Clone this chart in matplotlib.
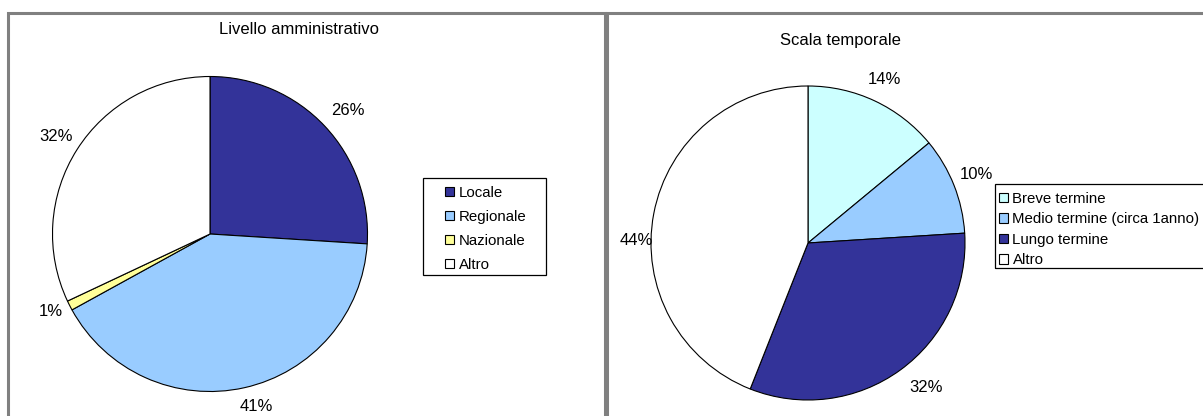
import matplotlib.pyplot as plt
from matplotlib.patches import Rectangle

plt.rcParams['font.family'] = ['Liberation Sans', 'DejaVu Sans']

# data
admin_labels = ["Locale", "Regionale", "Nazionale", "Altro"]
admin_values = [26, 41, 1, 32]
admin_colors = ["#333399", "#99CCFF", "#FFFF99", "#FFFFFF"]

time_labels = ["Breve termine", "Medio termine (circa 1anno)", "Lungo termine", "Altro"]
time_values = [14, 10, 32, 44]
time_colors = ["#CCFFFF", "#99CCFF", "#333399", "#FFFFFF"]

W, H = 1203, 416
fig = plt.figure(figsize=(W / 100, H / 100), dpi=100)


def px_axes(cx, cy, r):
    # axes box in pixel coords, y measured from top
    return fig.add_axes([(cx - r) / W, (H - cy - r) / H, 2 * r / W, 2 * r / H])


def px_rect(x0, y0, x1, y1, **kw):
    fig.add_artist(Rectangle((x0 / W, 1 - y1 / H), (x1 - x0) / W, (y1 - y0) / H,
                             transform=fig.transFigure, fill=False, **kw))


# panel borders
px_rect(8, 13, 605, 460, edgecolor="#808080", linewidth=2.2)
px_rect(607, 13, 1300, 460, edgecolor="#808080", linewidth=2.2)


def draw_pie(ax, values, colors, label_pos):
    wedges, texts = ax.pie(values, colors=colors, startangle=90, counterclock=False,
                           labels=[f"{v}%" for v in values], labeldistance=1.15,
                           wedgeprops=dict(edgecolor="black", linewidth=0.8),
                           textprops=dict(fontsize=12))
    for t, p in zip(texts, label_pos):
        t.set_position(p)
        t.set_ha("center")
        t.set_va("center")
    ax.set_xlim(-1, 1)
    ax.set_ylim(-1, 1)
    ax.set_aspect("equal")
    return wedges


ax1 = px_axes(210, 234, 157.5)
w1 = draw_pie(ax1, admin_values, admin_colors,
              [(0.873, 0.785), (0.291, -1.095), (-1.009, -0.494), (-0.978, 0.62)])
fig.text(299 / W, 1 - 30 / H, "Livello amministrativo", ha="center", va="center", fontsize=12)

ax2 = px_axes(808, 243, 157)
w2 = draw_pie(ax2, time_values, time_colors,
              [(0.49, 1.04), (1.076, 0.439), (0.75, -0.92), (-1.095, 0.013)])
fig.text(840 / W, 1 - 40 / H, "Scala temporale", ha="center", va="center", fontsize=12)

# legends: frame drawn separately, entries placed by the legend
px_rect(423, 178, 546, 275, edgecolor="black", linewidth=0.9)
px_rect(995, 184, 1260, 268, edgecolor="black", linewidth=0.9)

for wedges, labels, pos, spacing in [(w1, admin_labels, (445, 186), 0.66),
                                      (w2, time_labels, (999, 192), 0.43)]:
    fig.legend(wedges, labels, loc="upper left",
               bbox_to_anchor=(pos[0] / W, 1 - pos[1] / H),
               fontsize=10.8, frameon=False,
               handlelength=0.6, handleheight=0.6, handletextpad=0.3,
               labelspacing=spacing, borderpad=0, borderaxespad=0)

fig.savefig("out.png", dpi=100)
